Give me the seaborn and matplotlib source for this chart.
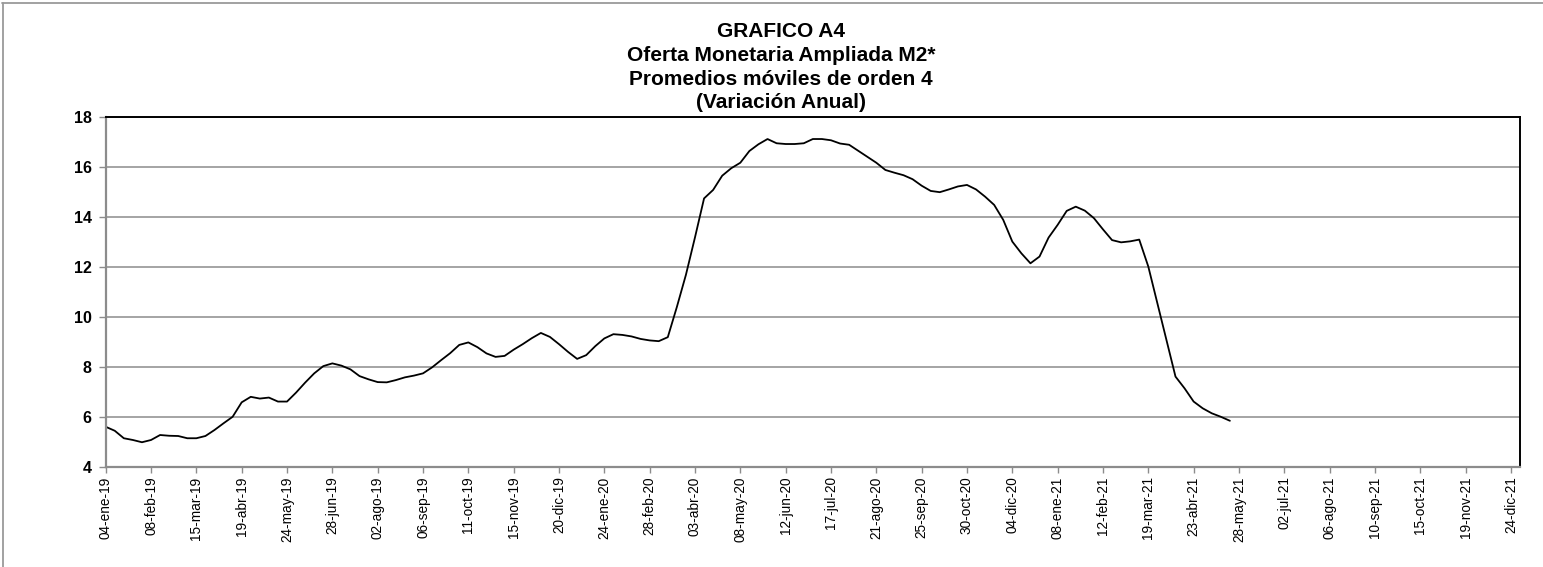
import seaborn as sns
import matplotlib.pyplot as plt
from matplotlib.lines import Line2D
import pandas as pd

## weekly M2 (variacion anual, promedio movil de orden 4)
start_date = "2019-01-04"
m2_values = [
    5.60, 5.44, 5.14, 5.07, 4.98, 5.07, 5.27, 5.24, 5.23, 5.14,
    5.14, 5.23, 5.47, 5.74, 6.00, 6.58, 6.80, 6.73, 6.77, 6.61,
    6.61, 6.97, 7.37, 7.74, 8.03, 8.14, 8.05, 7.90, 7.63, 7.50,
    7.39, 7.38, 7.47, 7.58, 7.65, 7.74, 7.98, 8.27, 8.55, 8.88,
    8.98, 8.79, 8.54, 8.40, 8.44, 8.69, 8.91, 9.15, 9.36, 9.20,
    8.91, 8.60, 8.32, 8.47, 8.83, 9.14, 9.31, 9.28, 9.22, 9.12,
    9.06, 9.03, 9.19, 10.40, 11.69, 13.19, 14.75, 15.09, 15.66, 15.96,
    16.18, 16.65, 16.92, 17.13, 16.96, 16.93, 16.93, 16.96, 17.13, 17.13,
    17.08, 16.95, 16.90, 16.66, 16.42, 16.18, 15.89, 15.78, 15.68, 15.52,
    15.26, 15.05, 15.00, 15.11, 15.23, 15.29, 15.11, 14.82, 14.49, 13.89,
    13.02, 12.55, 12.15, 12.42, 13.18, 13.69, 14.25, 14.42, 14.26, 13.96,
    13.51, 13.08, 12.99, 13.03, 13.10, 12.02, 10.55, 9.08, 7.61, 7.14,
    6.61, 6.34, 6.14, 6.00, 5.84,
]
tick_labels = [
    "04-ene-19", "08-feb-19", "15-mar-19", "19-abr-19", "24-may-19", "28-jun-19",
    "02-ago-19", "06-sep-19", "11-oct-19", "15-nov-19", "20-dic-19", "24-ene-20",
    "28-feb-20", "03-abr-20", "08-may-20", "12-jun-20", "17-jul-20", "21-ago-20",
    "25-sep-20", "30-oct-20", "04-dic-20", "08-ene-21", "12-feb-21", "19-mar-21",
    "23-abr-21", "28-may-21", "02-jul-21", "06-ago-21", "10-sep-21", "15-oct-21",
    "19-nov-21", "24-dic-21",
]
y_ticks = [4, 6, 8, 10, 12, 14, 16, 18]

df = pd.DataFrame({
    "fecha": pd.date_range(start_date, periods=len(m2_values), freq="7D"),
    "m2": m2_values,
})
tick_dates = pd.date_range(start_date, periods=len(tick_labels), freq="35D")

sns.set_style("white")
plt.rcParams["font.family"] = ["Liberation Sans", "DejaVu Sans"]
plt.rcParams["text.color"] = "black"
plt.rcParams["xtick.color"] = "black"
plt.rcParams["ytick.color"] = "black"

fig = plt.figure(figsize=(15.43, 5.67), dpi=100)
ax = fig.add_axes([0.0685, 0.1769, 0.9166, 0.6162])

sns.lineplot(data=df, x="fecha", y="m2", color="black", linewidth=1.3, ax=ax)

ax.set_xlim(pd.Timestamp(start_date), pd.Timestamp("2021-12-31"))
ax.set_ylim(4, 18)
ax.set_yticks(y_ticks)
ax.set_yticklabels([str(v) for v in y_ticks], fontsize=11.5, fontweight="bold")
ax.set_xticks(tick_dates)
ax.set_xticklabels(tick_labels, rotation=90, fontsize=9.8)
ax.set_xlabel("")
ax.set_ylabel("")

ax.grid(axis="y", color="#8c8c8c", linewidth=1.1)
ax.grid(axis="x", visible=False)
ax.set_axisbelow(True)

for side in ["left", "bottom"]:
    ax.spines[side].set_color("#8c8c8c")
    ax.spines[side].set_linewidth(1.6)
for side in ["top", "right"]:
    ax.spines[side].set_color("black")
    ax.spines[side].set_linewidth(1.4)

ax.tick_params(axis="x", direction="out", length=4, width=1, color="#8c8c8c",
               labelcolor="black", pad=3, bottom=True)
ax.tick_params(axis="y", direction="out", length=5, width=1, color="#8c8c8c",
               labelcolor="black", pad=5, left=True)

titles = ["GRAFICO A4", "Oferta Monetaria Ampliada M2*",
          "Promedios móviles de orden 4", "(Variación Anual)"]
for k, t in enumerate(titles):
    fig.text(0.506, 1 - (31.5 + 23.8 * k) / 567, t, ha="center", va="center",
             fontsize=15, fontweight="bold", color="black")

# grey frame lines (top and left only are visible in the original)
fig.add_artist(Line2D([2 / 1543, 1], [1 - 2.5 / 567, 1 - 2.5 / 567],
                      transform=fig.transFigure, color="#9a9a9a", linewidth=1.3))
fig.add_artist(Line2D([2.5 / 1543, 2.5 / 1543], [0, 1 - 2.5 / 567],
                      transform=fig.transFigure, color="#9a9a9a", linewidth=1.3))

fig.savefig("out.png", dpi=100)
